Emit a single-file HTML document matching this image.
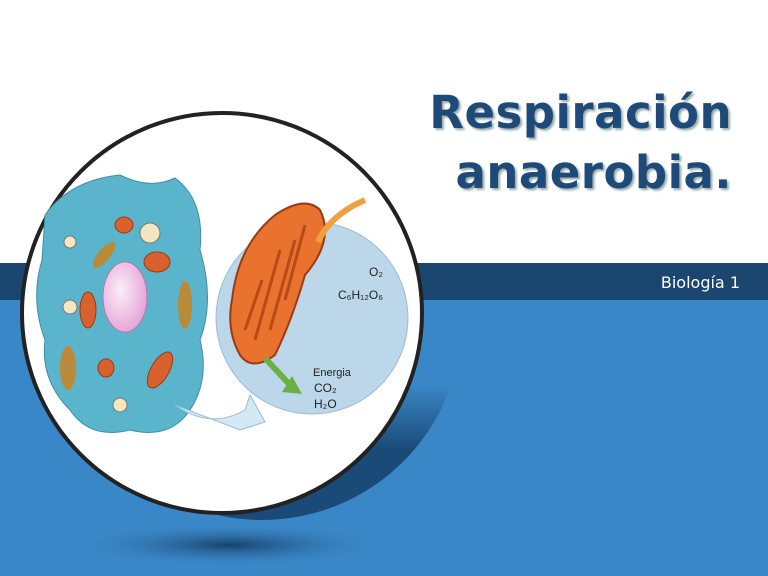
<!DOCTYPE html>
<html><head><meta charset="utf-8"><style>
html,body{margin:0;padding:0}
body{width:768px;height:576px;position:relative;overflow:hidden;background:#fff;font-family:"Liberation Sans",sans-serif}
.band{position:absolute;left:0;top:263px;width:768px;height:37px;background:#1b4670}
.blue{position:absolute;left:0;top:300px;width:768px;height:276px;background:#3a87c7}
.t{position:absolute;right:36px;font-family:"DejaVu Sans","Liberation Sans",sans-serif;font-weight:bold;font-size:45px;color:#1d4a78;text-shadow:2px 2px 2px #9aa;letter-spacing:0.5px;line-height:1}
.sub{position:absolute;right:28px;top:273px;color:#fff;font-size:16px;font-family:"DejaVu Sans",sans-serif}
</style></head><body>
<div class="band"></div><div class="blue"></div>
<div class="t" style="top:90px">Respiración</div>
<div class="t" style="top:150px">anaerobia.</div>
<div class="sub">Biología 1</div>
<svg width="768" height="576" style="position:absolute;left:0;top:0">
<defs>
<radialGradient id="sh" cx="0.5" cy="0.5" r="0.5"><stop offset="0" stop-color="#123a60" stop-opacity="0.9"/><stop offset="1" stop-color="#3a87c7" stop-opacity="0"/></radialGradient>
<radialGradient id="nu" cx="0.4" cy="0.4" r="0.6"><stop offset="0" stop-color="#fbeef8"/><stop offset="1" stop-color="#e6a8d8"/></radialGradient>
<linearGradient id="sg" gradientUnits="userSpaceOnUse" x1="0" y1="385" x2="0" y2="450"><stop offset="0" stop-color="#3a87c7"/><stop offset="1" stop-color="#1a4a78"/></linearGradient>
<clipPath id="cp"><rect x="0" y="385" width="768" height="200"/></clipPath>
</defs>
<ellipse cx="230" cy="545" rx="160" ry="22" fill="url(#sh)"/>
<circle cx="262" cy="320" r="200" fill="url(#sg)" clip-path="url(#cp)"/>
<circle cx="222" cy="313" r="200" fill="#fff" stroke="#222" stroke-width="4"/>
<circle cx="312" cy="318" r="96" fill="#bcd7ea" stroke="#9cbcd6"/>
<path d="M45 215 Q70 180 120 175 Q150 190 175 178 Q205 200 200 250 Q215 300 200 340 Q210 380 190 410 Q170 440 130 430 Q90 440 70 410 Q40 380 45 340 Q30 300 42 260 Z" fill="#5ab5cc" stroke="#3f8ea5"/>
<ellipse cx="125" cy="297" rx="22" ry="35" fill="url(#nu)" stroke="#b47aa7"/>
<g fill="#d9612e" stroke="#9b3a15"><ellipse cx="124" cy="225" rx="9" ry="8"/><ellipse cx="157" cy="262" rx="13" ry="10"/><ellipse cx="88" cy="310" rx="8" ry="18"/><ellipse cx="106" cy="368" rx="8" ry="9"/><ellipse cx="160" cy="370" rx="9" ry="20" transform="rotate(30 160 370)"/></g>
<g fill="#f4e6c0" stroke="#777"><circle cx="150" cy="233" r="10"/><circle cx="70" cy="242" r="6"/><circle cx="70" cy="307" r="7"/><circle cx="120" cy="405" r="7"/></g>
<g fill="#b98a3a"><ellipse cx="104" cy="255" rx="6" ry="16" transform="rotate(40 104 255)"/><ellipse cx="185" cy="305" rx="7" ry="24"/><ellipse cx="68" cy="368" rx="8" ry="22"/></g>
<path d="M175 405 Q210 430 245 410 L250 395 L265 422 L240 430 Z" fill="#d4e8f5" stroke="#9cbcd6"/>
<path d="M232 300 Q238 245 275 215 Q305 195 320 210 Q335 240 305 275 Q292 320 275 355 Q252 372 240 355 Q226 330 232 300 Z" fill="#e8722e" stroke="#9b3a15" stroke-width="2"/>
<g stroke="#b84a18" stroke-width="3" fill="none"><path d="M245 330 L262 280"/><path d="M255 340 L280 250"/><path d="M270 330 L295 240"/><path d="M285 300 L305 225"/></g>
<path d="M318 242 Q330 215 365 200" stroke="#f0a040" stroke-width="6" fill="none"/>
<path d="M265 358 L290 385" stroke="#6bb044" stroke-width="6"/><path d="M282 392 L302 394 L292 376 Z" fill="#6bb044"/>
<g font-family="Liberation Sans,sans-serif" font-size="12" fill="#222"><text x="369" y="276">O₂</text><text x="338" y="299">C₆H₁₂O₆</text><text x="313" y="376" font-size="11">Energia</text><text x="314" y="392">CO₂</text><text x="314" y="408">H₂O</text></g>
</svg>
</body></html>
